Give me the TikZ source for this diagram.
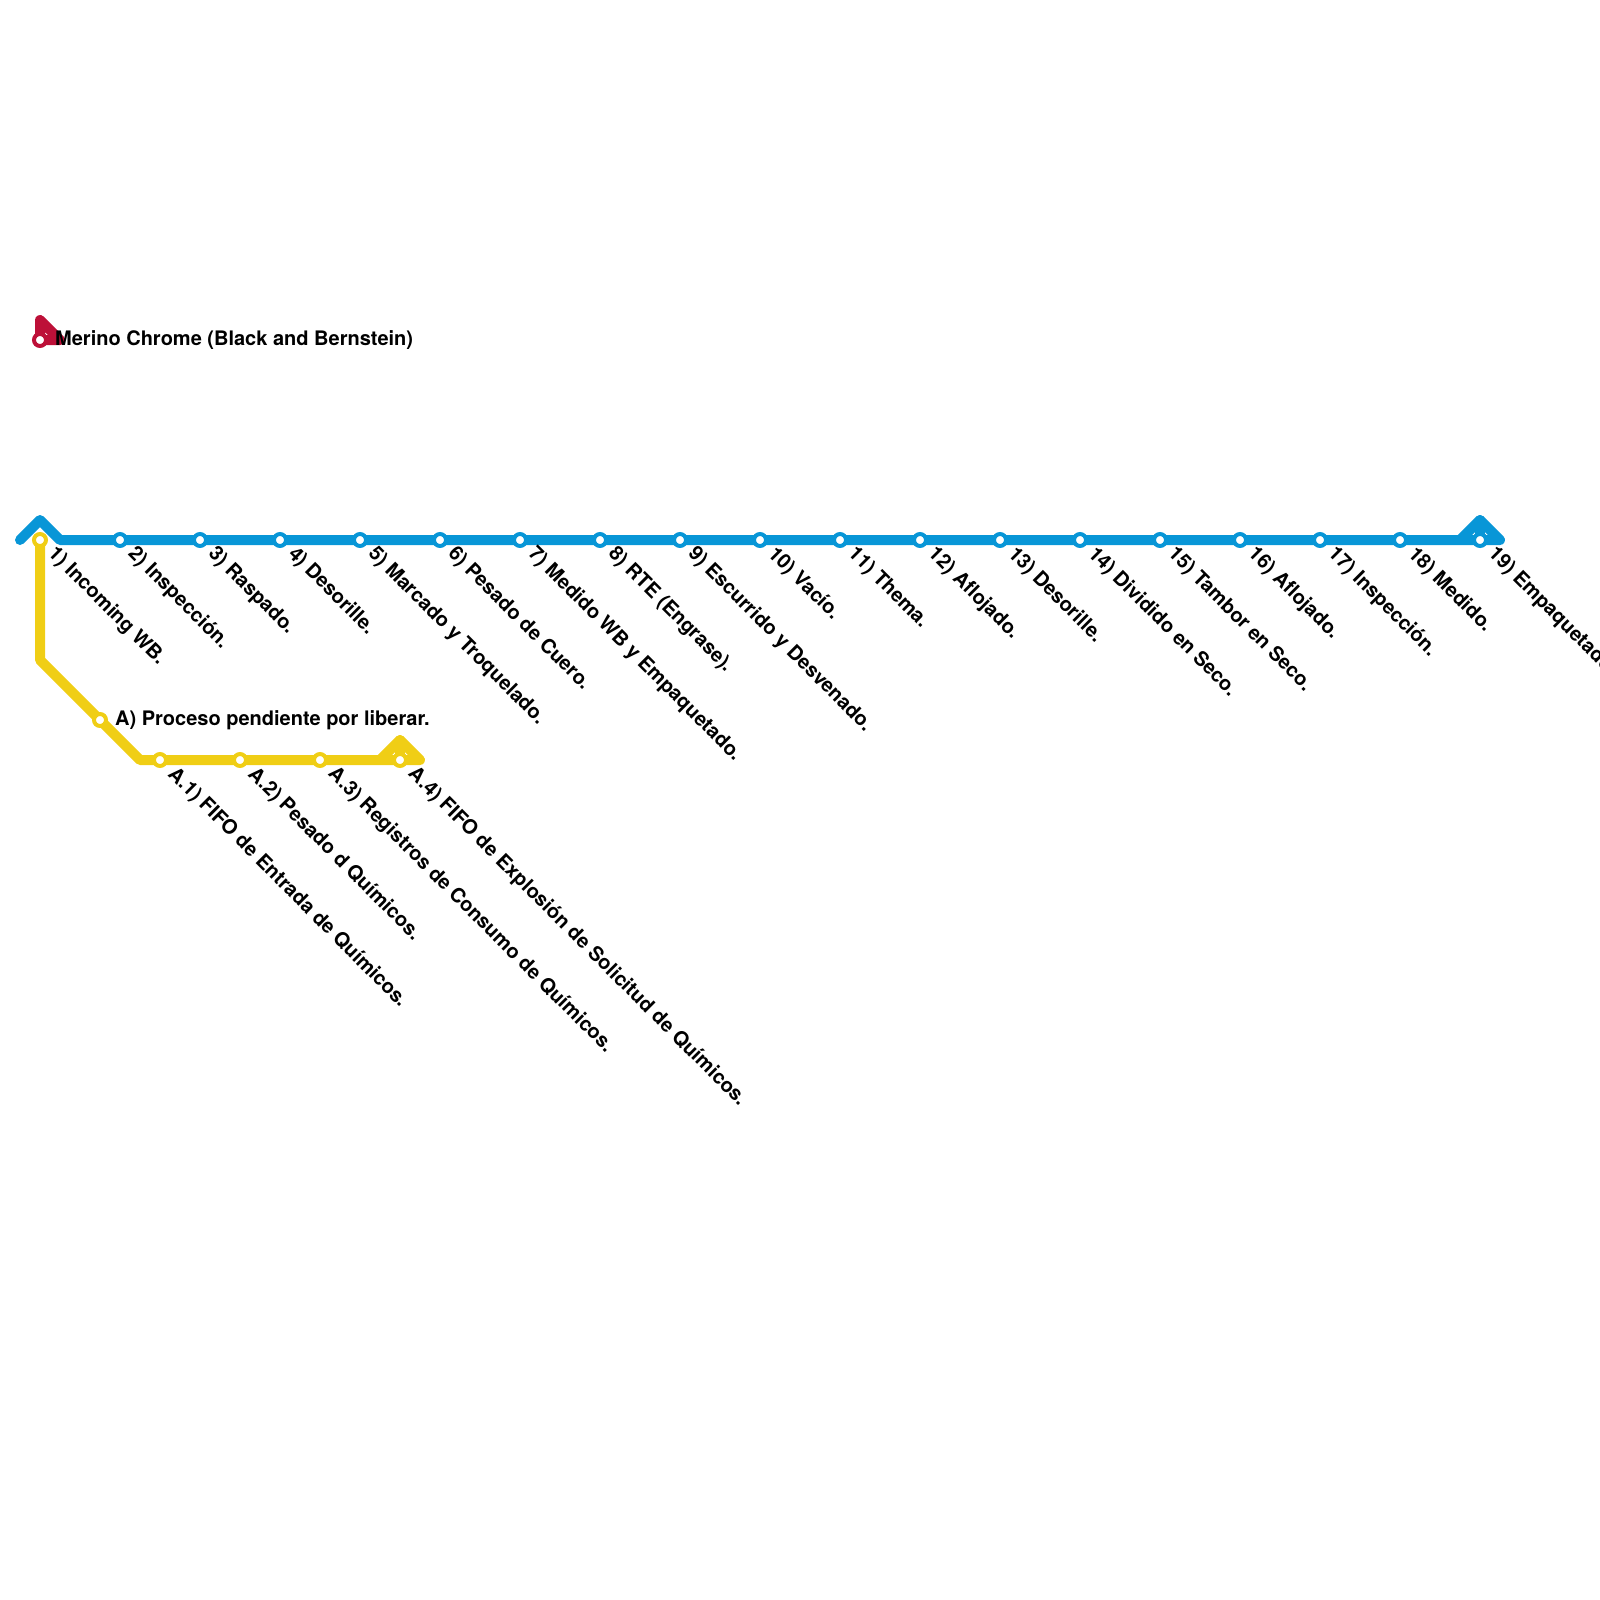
\documentclass[tikz,border=0pt]{standalone}
\usepackage{fontspec}
\setmainfont{TeX Gyre Heros}
\definecolor{lblue}{HTML}{0896D7}
\definecolor{lyellow}{HTML}{F0CE15}
\definecolor{lred}{HTML}{BD1038}
\tikzset{
  x=1pt,y=-1pt,
  metro/.style={line width=10pt,line cap=round,line join=round},
  stn/.style={circle,draw=#1,fill=white,line width=4pt,minimum size=12pt,inner sep=0pt},
  lab/.style={font=\bfseries\fontsize{20}{20}\selectfont,text=black,inner sep=0pt},
  dlab/.style={lab,anchor=west,rotate=-45},
}
\begin{document}
\begin{tikzpicture}
\useasboundingbox (0,0) rectangle (1600,1600);
% coordinates
\coordinate (bS) at (20,540);
\coordinate (bA) at (40,520);
\coordinate (bB) at (60,540);
\coordinate (bC) at (1460,540);
\coordinate (bD) at (1480,520);
\coordinate (bE) at (1500,540);
\coordinate (bF) at (1480,540);
\coordinate (yS) at (40,540);
\coordinate (yA) at (40,660);
\coordinate (yB) at (140,760);
\coordinate (yC) at (380,760);
\coordinate (yD) at (400,740);
\coordinate (yE) at (420,760);
\coordinate (yF) at (400,760);
\coordinate (rA) at (40,320);
\coordinate (rB) at (60,340);
\coordinate (rC) at (40,340);
% lines
\draw[metro,lred] (rB) -- (rC) -- (rA) -- cycle;
\draw[metro,lblue] (bS) -- (bA) -- (bB) -- (bE) -- (bD) -- (bC);
\draw[metro,lblue] (bD) -- (bF);
\draw[metro,lyellow] (yS) -- (yA) -- (yB) -- (yE) -- (yD) -- (yC);
\draw[metro,lyellow] (yD) -- (yF);
% stations
\node[stn=lred] (r0) at (rC) {};
\node[stn=lyellow] (s1) at (yS) {};
\foreach \i/\x in {2/120,3/200,4/280,5/360,6/440,7/520,8/600,9/680,10/760,11/840,12/920,13/1000,14/1080,15/1160,16/1240,17/1320,18/1400,19/1480}
  \node[stn=lblue] (s\i) at (\x,540) {};
\node[stn=lyellow] (a0) at (100,720) {};
\node[stn=lyellow] (a1) at (160,760) {};
\node[stn=lyellow] (a2) at (240,760) {};
\node[stn=lyellow] (a3) at (320,760) {};
\node[stn=lyellow] (a4) at (yF) {};
% labels
\node[lab,anchor=west] (lr) at (55,340) {Merino Chrome (Black and Bernstein)};
\node[lab,anchor=west] (la) at (115,720) {A) Proceso pendiente por liberar.};
\foreach \n/\t in {s1/{1) Incoming WB.},s2/{2) Inspección.},s3/{3) Raspado.},s4/{4) Desorille.},s5/{5) Marcado y Troquelado.},s6/{6) Pesado de Cuero.},s7/{7) Medido WB y Empaquetado.},s8/{8) RTE (Engrase).},s9/{9) Escurrido y Desvenado.},s10/{10) Vacío.},s11/{11) Thema.},s12/{12) Aflojado.},s13/{13) Desorille.},s14/{14) Dividido en Seco.},s15/{15) Tambor en Seco.},s16/{16) Aflojado.},s17/{17) Inspección.},s18/{18) Medido.},s19/{19) Empaquetado.},a1/{A.1) FIFO de Entrada de Químicos.},a2/{A.2) Pesado d Químicos.},a3/{A.3) Registros de Consumo de Químicos.},a4/{A.4) FIFO de Explosión de Solicitud de Químicos.}}
  \node[dlab] (l\n) at ([shift={(11,11)}]\n.center) {\t};
\end{tikzpicture}
\end{document}
